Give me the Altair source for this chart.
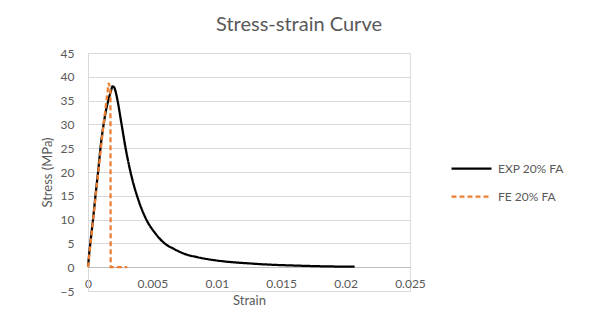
import altair as alt
import pandas as pd

# Experimental curve
exp_strain = [0, 0.0001, 0.0002, 0.0004, 0.0006, 0.0008, 0.001, 0.0012, 0.0014,
              0.0016, 0.0018, 0.0019, 0.002, 0.0021, 0.00228, 0.00259, 0.0029,
              0.00336, 0.00383, 0.00453, 0.0052, 0.00595, 0.0067, 0.0075, 0.0085,
              0.0095, 0.011, 0.0125, 0.014, 0.016, 0.018, 0.0207]
exp_stress = [0, 3, 5.5, 10.3, 15.5, 20.5, 25.8, 29.8, 33,
              35.3, 37.2, 38.0, 37.9, 37.3, 35.2, 30.3, 25.3,
              19.3, 14.8, 10, 7.2, 5, 3.8, 2.8, 2.1,
              1.6, 1.1, 0.8, 0.55, 0.35, 0.2, 0.1]

# FE model curve
fe_strain = [0, 0.0004, 0.0008, 0.0012, 0.0016, 0.00174, 0.00176, 0.00305]
fe_stress = [0, 10, 20, 29.8, 38.7, 37.5, 0, 0]

series = ["EXP 20% FA", "FE 20% FA"]
x_ticks = [0, 0.005, 0.01, 0.015, 0.02, 0.025]
y_ticks = [-5, 0, 5, 10, 15, 20, 25, 30, 35, 40, 45]

rows = []
for i, (s, v) in enumerate(zip(exp_strain, exp_stress)):
    rows.append({"series": series[0], "strain": s, "stress": v, "i": i})
for i, (s, v) in enumerate(zip(fe_strain, fe_stress)):
    rows.append({"series": series[1], "strain": s, "stress": v, "i": i})
df = pd.DataFrame(rows)

FONT = "Lato"
GREY = "#595959"

base = alt.Chart(df).encode(
    x=alt.X("strain:Q",
            scale=alt.Scale(domain=[0, 0.025], nice=False, zero=False),
            axis=alt.Axis(values=x_ticks, format=".3~f", title="Strain",
                          grid=False, offset=-24, tickSize=0, labelPadding=11,
                          domainColor="#bfbfbf", domainWidth=1,
                          labelColor=GREY, labelFont=FONT, labelFontSize=12,
                          titleColor=GREY, titleFont=FONT, titleFontSize=13,
                          titleFontWeight="normal", titlePadding=5,
                          labelFlush=False)),
    y=alt.Y("stress:Q",
            scale=alt.Scale(domain=[-5, 45], nice=False, zero=False),
            axis=alt.Axis(values=y_ticks, title="Stress (MPa)", grid=True,
                          gridColor="#d9d9d9", gridWidth=1, tickSize=0,
                          labelPadding=14, domainColor="#d9d9d9",
                          labelColor=GREY, labelFont=FONT, labelFontSize=12,
                          titleColor=GREY, titleFont=FONT, titleFontSize=13,
                          titleFontWeight="normal", titlePadding=6)),
    color=alt.Color("series:N",
                    scale=alt.Scale(domain=series, range=["#000000", "#ED7D31"]),
                    legend=alt.Legend(title=None, orient="none", legendX=362,
                                      legendY=94, symbolType="stroke",
                                      symbolSize=1600, symbolStrokeWidth=2.25,
                                      labelFont=FONT, labelFontSize=12,
                                      labelColor=GREY, rowPadding=-15,
                                      labelOffset=5)),
    strokeDash=alt.StrokeDash("series:N",
                              scale=alt.Scale(domain=series, range=[[1, 0], [5, 3]]),
                              legend=None),
    order="i:Q",
)

exp_line = base.transform_filter(alt.datum.series == series[0]).mark_line(
    strokeWidth=2.25, interpolate="monotone")
fe_line = base.transform_filter(alt.datum.series == series[1]).mark_line(
    strokeWidth=2.25)

chart = alt.layer(exp_line, fe_line).properties(
    width=322,
    height=238,
    title=alt.TitleParams("Stress-strain Curve", font=FONT, fontSize=20,
                          fontWeight="normal", color=GREY, dx=50, offset=12),
    autosize=alt.AutoSizeParams(type="none"),
    padding={"left": 80, "top": 45, "right": 189, "bottom": 22},
).configure_view(stroke=None).configure(background="white")

chart.save("out.html", embed_options={"renderer": "svg", "actions": False})
